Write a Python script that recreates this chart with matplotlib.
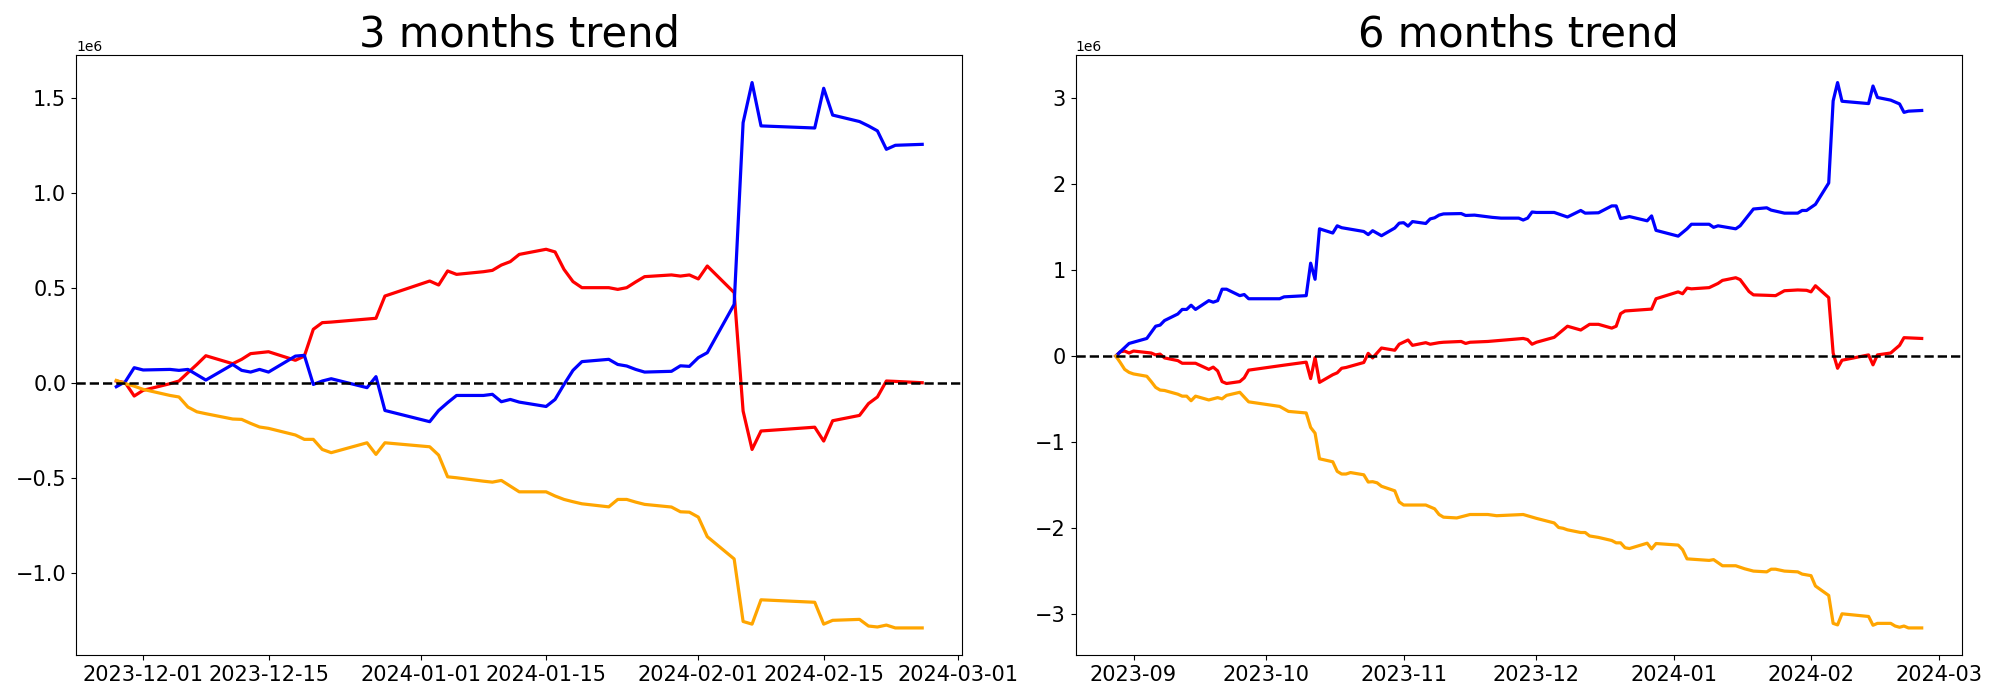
import matplotlib
matplotlib.use("Agg")
import matplotlib.pyplot as plt
import pandas as pd
import numpy as np

# ---- 3 months panel: shared dates, values in units of 1e6
dates_3m = [
    "2023-11-28", "2023-11-29", "2023-11-30", "2023-12-01",
    "2023-12-04", "2023-12-05", "2023-12-06", "2023-12-07", "2023-12-08",
    "2023-12-11", "2023-12-12", "2023-12-13", "2023-12-14", "2023-12-15",
    "2023-12-18", "2023-12-19", "2023-12-20", "2023-12-21", "2023-12-22",
    "2023-12-26", "2023-12-27", "2023-12-28",
    "2024-01-02", "2024-01-03", "2024-01-04", "2024-01-05",
    "2024-01-08", "2024-01-09", "2024-01-10", "2024-01-11", "2024-01-12",
    "2024-01-15", "2024-01-16", "2024-01-17", "2024-01-18", "2024-01-19",
    "2024-01-22", "2024-01-23", "2024-01-24", "2024-01-25", "2024-01-26",
    "2024-01-29", "2024-01-30", "2024-01-31", "2024-02-01", "2024-02-02",
    "2024-02-05", "2024-02-06", "2024-02-07", "2024-02-08",
    "2024-02-14", "2024-02-15", "2024-02-16",
    "2024-02-19", "2024-02-20", "2024-02-21", "2024-02-22", "2024-02-23",
    "2024-02-26",
]
blue_3m = [
    -0.021, 0.005, 0.079, 0.067,
    0.070, 0.065, 0.070, 0.042, 0.014,
    0.096, 0.065, 0.056, 0.070, 0.056,
    0.140, 0.144, -0.009, 0.009, 0.021,
    -0.026, 0.032, -0.146,
    -0.205, -0.146, -0.105, -0.067,
    -0.067, -0.061, -0.100, -0.088, -0.102,
    -0.125, -0.088, -0.009, 0.065, 0.111,
    0.123, 0.096, 0.088, 0.070, 0.056,
    0.060, 0.089, 0.086, 0.132, 0.158,
    0.412, 1.368, 1.579, 1.351,
    1.340, 1.549, 1.408,
    1.374, 1.351, 1.325, 1.228, 1.249,
    1.254,
]
red_3m = [
    0.009, 0.000, -0.070, -0.040,
    -0.005, 0.009, 0.053, 0.096, 0.142,
    0.100, 0.123, 0.153, 0.158, 0.163,
    0.118, 0.140, 0.281, 0.316, 0.319,
    0.335, 0.339, 0.456,
    0.535, 0.514, 0.588, 0.570,
    0.584, 0.591, 0.619, 0.637, 0.675,
    0.702, 0.688, 0.596, 0.532, 0.500,
    0.500, 0.491, 0.500, 0.530, 0.558,
    0.567, 0.561, 0.567, 0.546, 0.614,
    0.474, -0.149, -0.351, -0.254,
    -0.234, -0.307, -0.200,
    -0.172, -0.110, -0.075, 0.009, 0.007,
    0.000,
]
orange_3m = [
    0.012, -0.005, -0.018, -0.035,
    -0.067, -0.075, -0.128, -0.153, -0.163,
    -0.191, -0.193, -0.214, -0.233, -0.240,
    -0.275, -0.298, -0.298, -0.351, -0.368,
    -0.316, -0.377, -0.316,
    -0.337, -0.381, -0.495, -0.500,
    -0.518, -0.523, -0.514, -0.544, -0.574,
    -0.574, -0.596, -0.614, -0.626, -0.637,
    -0.653, -0.614, -0.614, -0.628, -0.640,
    -0.654, -0.679, -0.681, -0.707, -0.810,
    -0.927, -1.256, -1.270, -1.142,
    -1.155, -1.270, -1.250,
    -1.245, -1.280, -1.285, -1.275, -1.290,
    -1.290,
]

# ---- 6 months panel (units of 1e6)
blue_6m_dates = [
    "2023-08-28", "2023-08-29", "2023-08-31", "2023-09-04", "2023-09-06",
    "2023-09-07", "2023-09-08", "2023-09-11", "2023-09-12", "2023-09-13",
    "2023-09-14", "2023-09-15", "2023-09-18", "2023-09-19", "2023-09-20",
    "2023-09-21", "2023-09-22", "2023-09-25", "2023-09-26", "2023-09-27",
    "2023-10-04", "2023-10-05", "2023-10-10", "2023-10-11", "2023-10-12",
    "2023-10-13", "2023-10-16", "2023-10-17", "2023-10-18", "2023-10-23",
    "2023-10-24", "2023-10-25", "2023-10-27", "2023-10-30", "2023-10-31",
    "2023-11-01", "2023-11-02", "2023-11-03", "2023-11-06", "2023-11-07",
    "2023-11-08", "2023-11-09", "2023-11-10", "2023-11-14", "2023-11-15",
    "2023-11-17", "2023-11-21", "2023-11-23", "2023-11-27", "2023-11-28",
    "2023-11-29", "2023-11-30", "2023-12-01", "2023-12-05", "2023-12-08",
    "2023-12-11", "2023-12-12", "2023-12-15", "2023-12-18", "2023-12-19",
    "2023-12-20", "2023-12-22", "2023-12-26", "2023-12-27", "2023-12-28",
    "2024-01-02", "2024-01-04", "2024-01-05", "2024-01-09", "2024-01-10",
    "2024-01-11", "2024-01-15", "2024-01-16", "2024-01-19", "2024-01-22",
    "2024-01-23", "2024-01-26", "2024-01-29", "2024-01-30", "2024-01-31",
    "2024-02-02", "2024-02-05", "2024-02-06", "2024-02-07", "2024-02-08",
    "2024-02-14", "2024-02-15", "2024-02-16", "2024-02-19", "2024-02-21",
    "2024-02-22", "2024-02-23", "2024-02-26",
]
blue_6m = [
    0.000, 0.049, 0.146, 0.204, 0.346,
    0.359, 0.412, 0.488, 0.541, 0.541,
    0.590, 0.541, 0.643, 0.625, 0.643,
    0.776, 0.776, 0.701, 0.714, 0.665,
    0.665, 0.687, 0.701, 1.078, 0.891,
    1.477, 1.428, 1.512, 1.490, 1.446,
    1.410, 1.455, 1.397, 1.486, 1.543,
    1.548, 1.508, 1.561, 1.539, 1.592,
    1.605, 1.636, 1.650, 1.654, 1.632,
    1.636, 1.610, 1.601, 1.601, 1.579,
    1.601, 1.672, 1.667, 1.667, 1.614,
    1.690, 1.659, 1.663, 1.743, 1.743,
    1.596, 1.619, 1.570, 1.627, 1.459,
    1.392, 1.477, 1.530, 1.530, 1.494,
    1.512, 1.477, 1.512, 1.707, 1.721,
    1.694, 1.659, 1.659, 1.690, 1.690,
    1.761, 2.009, 2.962, 3.175, 2.958,
    2.931, 3.135, 3.002, 2.971, 2.927,
    2.829, 2.843, 2.851,
]

red_6m_dates = [
    "2023-08-28", "2023-08-29", "2023-08-30", "2023-08-31", "2023-09-01",
    "2023-09-05", "2023-09-06", "2023-09-07", "2023-09-08", "2023-09-11",
    "2023-09-12", "2023-09-15", "2023-09-18", "2023-09-19", "2023-09-20",
    "2023-09-21", "2023-09-22", "2023-09-25", "2023-09-26", "2023-09-27",
    "2023-10-05", "2023-10-10", "2023-10-11", "2023-10-12", "2023-10-13",
    "2023-10-16", "2023-10-17", "2023-10-18", "2023-10-19", "2023-10-23",
    "2023-10-24", "2023-10-25", "2023-10-27", "2023-10-30", "2023-10-31",
    "2023-11-02", "2023-11-03", "2023-11-06", "2023-11-07", "2023-11-09",
    "2023-11-10", "2023-11-14", "2023-11-15", "2023-11-16", "2023-11-20",
    "2023-11-28", "2023-11-29", "2023-11-30", "2023-12-01", "2023-12-05",
    "2023-12-08", "2023-12-11", "2023-12-13", "2023-12-15", "2023-12-18",
    "2023-12-19", "2023-12-20", "2023-12-21", "2023-12-27", "2023-12-28",
    "2024-01-02", "2024-01-03", "2024-01-04", "2024-01-05", "2024-01-09",
    "2024-01-11", "2024-01-12", "2024-01-15", "2024-01-16", "2024-01-18",
    "2024-01-19", "2024-01-22", "2024-01-24", "2024-01-26", "2024-01-29",
    "2024-01-31", "2024-02-01", "2024-02-02", "2024-02-05", "2024-02-06",
    "2024-02-07", "2024-02-08", "2024-02-14", "2024-02-15", "2024-02-16",
    "2024-02-19", "2024-02-20", "2024-02-21", "2024-02-22", "2024-02-26",
]
red_6m = [
    0.000, 0.049, 0.058, 0.035, 0.058,
    0.035, 0.013, 0.022, -0.022, -0.053,
    -0.084, -0.084, -0.155, -0.129, -0.173,
    -0.297, -0.319, -0.297, -0.253, -0.164,
    -0.106, -0.071, -0.262, -0.018, -0.306,
    -0.217, -0.195, -0.142, -0.133, -0.075,
    0.031, -0.022, 0.093, 0.067, 0.137,
    0.186, 0.124, 0.155, 0.137, 0.155,
    0.160, 0.169, 0.146, 0.160, 0.169,
    0.204, 0.191, 0.137, 0.160, 0.217,
    0.346, 0.302, 0.368, 0.368, 0.324,
    0.346, 0.492, 0.523, 0.545, 0.665,
    0.745, 0.723, 0.789, 0.780, 0.794,
    0.843, 0.878, 0.909, 0.887, 0.749,
    0.710, 0.705, 0.701, 0.758, 0.767,
    0.763, 0.745, 0.816, 0.678, 0.035,
    -0.142, -0.049, 0.013, -0.102, 0.013,
    0.035, 0.080, 0.124, 0.213, 0.204,
]

orange_6m_dates = [
    "2023-08-28", "2023-08-29", "2023-08-30", "2023-08-31", "2023-09-01",
    "2023-09-04", "2023-09-05", "2023-09-06", "2023-09-07", "2023-09-08",
    "2023-09-11", "2023-09-12", "2023-09-13", "2023-09-14", "2023-09-15",
    "2023-09-18", "2023-09-20", "2023-09-21", "2023-09-22", "2023-09-25",
    "2023-09-27", "2023-10-04", "2023-10-06", "2023-10-10", "2023-10-11",
    "2023-10-12", "2023-10-13", "2023-10-16", "2023-10-17", "2023-10-18",
    "2023-10-19", "2023-10-20", "2023-10-23", "2023-10-24", "2023-10-25",
    "2023-10-26", "2023-10-27", "2023-10-30", "2023-10-31", "2023-11-01",
    "2023-11-06", "2023-11-08", "2023-11-09", "2023-11-10", "2023-11-13",
    "2023-11-16", "2023-11-20", "2023-11-22", "2023-11-28", "2023-12-01",
    "2023-12-05", "2023-12-06", "2023-12-07", "2023-12-08", "2023-12-11",
    "2023-12-12", "2023-12-13", "2023-12-15", "2023-12-18", "2023-12-19",
    "2023-12-20", "2023-12-21", "2023-12-22", "2023-12-26", "2023-12-27",
    "2023-12-28", "2024-01-02", "2024-01-03", "2024-01-04", "2024-01-09",
    "2024-01-10", "2024-01-12", "2024-01-15", "2024-01-17", "2024-01-19",
    "2024-01-22", "2024-01-23", "2024-01-24", "2024-01-26", "2024-01-29",
    "2024-01-30", "2024-02-01", "2024-02-02", "2024-02-05", "2024-02-06",
    "2024-02-07", "2024-02-08", "2024-02-14", "2024-02-15", "2024-02-16",
    "2024-02-19", "2024-02-20", "2024-02-21", "2024-02-22", "2024-02-23",
    "2024-02-26",
]
orange_6m = [
    0.000, -0.075, -0.155, -0.190, -0.208,
    -0.235, -0.297, -0.364, -0.395, -0.400,
    -0.443, -0.466, -0.466, -0.519, -0.466,
    -0.510, -0.483, -0.497, -0.457, -0.421,
    -0.532, -0.585, -0.643, -0.661, -0.829,
    -0.896, -1.193, -1.228, -1.339, -1.370,
    -1.370, -1.353, -1.379, -1.463, -1.459,
    -1.472, -1.512, -1.565, -1.694, -1.730,
    -1.730, -1.774, -1.840, -1.871, -1.880,
    -1.840, -1.840, -1.854, -1.840, -1.885,
    -1.938, -1.991, -2.000, -2.018, -2.049,
    -2.049, -2.089, -2.106, -2.142, -2.169,
    -2.169, -2.226, -2.235, -2.173, -2.239,
    -2.177, -2.195, -2.248, -2.355, -2.373,
    -2.364, -2.435, -2.435, -2.470, -2.497,
    -2.506, -2.475, -2.475, -2.497, -2.506,
    -2.532, -2.550, -2.670, -2.780, -3.104,
    -3.122, -2.993, -3.024, -3.126, -3.104,
    -3.104, -3.135, -3.149, -3.135, -3.157,
    -3.157,
]

scale = 1e6

fig, axes = plt.subplots(1, 2, figsize=(20, 7), dpi=100)
plt.subplots_adjust(left=0.038, right=0.981, bottom=0.064, top=0.921, wspace=0.1275)

ax = axes[0]
d3 = pd.to_datetime(dates_3m)
ax.plot(d3, np.array(red_3m) * scale, color="red", lw=2.3)
ax.plot(d3, np.array(blue_3m) * scale, color="blue", lw=2.3)
ax.plot(d3, np.array(orange_3m) * scale, color="orange", lw=2.3)
ax.axhline(0, color="black", linestyle="--", lw=1.8)
ax.set_title("3 months trend", fontsize=30)
ax.tick_params(labelsize=15)

ax = axes[1]
ax.plot(pd.to_datetime(red_6m_dates), np.array(red_6m) * scale, color="red", lw=2.3)
ax.plot(pd.to_datetime(blue_6m_dates), np.array(blue_6m) * scale, color="blue", lw=2.3)
ax.plot(pd.to_datetime(orange_6m_dates), np.array(orange_6m) * scale, color="orange", lw=2.3)
ax.axhline(0, color="black", linestyle="--", lw=1.8)
ax.set_title("6 months trend", fontsize=30)
ax.tick_params(labelsize=15)

plt.savefig("out.png")
